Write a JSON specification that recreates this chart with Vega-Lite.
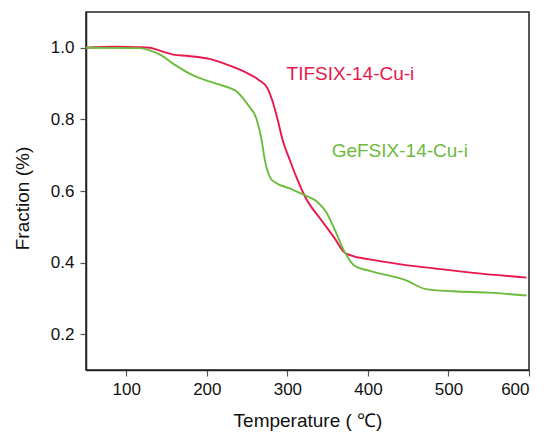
{
  "$schema": "https://vega.github.io/schema/vega-lite/v6.json",
  "width": 443,
  "height": 358,
  "autosize": {"type": "none"},
  "padding": {"left": 86, "top": 12, "right": 18, "bottom": 62},
  "background": "white",
  "config": {
    "font": "Liberation Sans",
    "view": {"stroke": "#222222", "strokeWidth": 1.5},
    "axis": {
      "grid": false,
      "domainColor": "#222222",
      "domainWidth": 1.5,
      "tickColor": "#555555",
      "tickSize": 6,
      "tickWidth": 1.2,
      "labelFont": "Liberation Sans",
      "labelFontSize": 17,
      "labelColor": "#111111",
      "titleFont": "Liberation Sans",
      "titleFontSize": 19,
      "titleFontWeight": "normal",
      "titleColor": "#111111"
    }
  },
  "datasets": {
    "curves": [
      {"t": 50, "f": 1.0, "s": "TIFSIX-14-Cu-i"},
      {"t": 86, "f": 1.003, "s": "TIFSIX-14-Cu-i"},
      {"t": 116, "f": 1.002, "s": "TIFSIX-14-Cu-i"},
      {"t": 129, "f": 1.0, "s": "TIFSIX-14-Cu-i"},
      {"t": 147, "f": 0.988, "s": "TIFSIX-14-Cu-i"},
      {"t": 158, "f": 0.981, "s": "TIFSIX-14-Cu-i"},
      {"t": 177, "f": 0.977, "s": "TIFSIX-14-Cu-i"},
      {"t": 203, "f": 0.969, "s": "TIFSIX-14-Cu-i"},
      {"t": 225, "f": 0.953, "s": "TIFSIX-14-Cu-i"},
      {"t": 246, "f": 0.934, "s": "TIFSIX-14-Cu-i"},
      {"t": 264, "f": 0.911, "s": "TIFSIX-14-Cu-i"},
      {"t": 275, "f": 0.888, "s": "TIFSIX-14-Cu-i"},
      {"t": 281, "f": 0.855, "s": "TIFSIX-14-Cu-i"},
      {"t": 288, "f": 0.799, "s": "TIFSIX-14-Cu-i"},
      {"t": 294, "f": 0.743, "s": "TIFSIX-14-Cu-i"},
      {"t": 303, "f": 0.687, "s": "TIFSIX-14-Cu-i"},
      {"t": 311, "f": 0.64, "s": "TIFSIX-14-Cu-i"},
      {"t": 322, "f": 0.584, "s": "TIFSIX-14-Cu-i"},
      {"t": 342, "f": 0.519, "s": "TIFSIX-14-Cu-i"},
      {"t": 359, "f": 0.467, "s": "TIFSIX-14-Cu-i"},
      {"t": 370, "f": 0.43, "s": "TIFSIX-14-Cu-i"},
      {"t": 379, "f": 0.42, "s": "TIFSIX-14-Cu-i"},
      {"t": 402, "f": 0.409, "s": "TIFSIX-14-Cu-i"},
      {"t": 441, "f": 0.395, "s": "TIFSIX-14-Cu-i"},
      {"t": 485, "f": 0.383, "s": "TIFSIX-14-Cu-i"},
      {"t": 528, "f": 0.372, "s": "TIFSIX-14-Cu-i"},
      {"t": 597, "f": 0.358, "s": "TIFSIX-14-Cu-i"},
      {"t": 50, "f": 1.0, "s": "GeFSIX-14-Cu-i"},
      {"t": 116, "f": 0.999, "s": "GeFSIX-14-Cu-i"},
      {"t": 129, "f": 0.993, "s": "GeFSIX-14-Cu-i"},
      {"t": 142, "f": 0.981, "s": "GeFSIX-14-Cu-i"},
      {"t": 160, "f": 0.953, "s": "GeFSIX-14-Cu-i"},
      {"t": 181, "f": 0.925, "s": "GeFSIX-14-Cu-i"},
      {"t": 203, "f": 0.906, "s": "GeFSIX-14-Cu-i"},
      {"t": 220, "f": 0.894, "s": "GeFSIX-14-Cu-i"},
      {"t": 238, "f": 0.876, "s": "GeFSIX-14-Cu-i"},
      {"t": 251, "f": 0.841, "s": "GeFSIX-14-Cu-i"},
      {"t": 262, "f": 0.799, "s": "GeFSIX-14-Cu-i"},
      {"t": 268, "f": 0.743, "s": "GeFSIX-14-Cu-i"},
      {"t": 272, "f": 0.687, "s": "GeFSIX-14-Cu-i"},
      {"t": 279, "f": 0.636, "s": "GeFSIX-14-Cu-i"},
      {"t": 285, "f": 0.624, "s": "GeFSIX-14-Cu-i"},
      {"t": 303, "f": 0.607, "s": "GeFSIX-14-Cu-i"},
      {"t": 324, "f": 0.586, "s": "GeFSIX-14-Cu-i"},
      {"t": 337, "f": 0.57, "s": "GeFSIX-14-Cu-i"},
      {"t": 348, "f": 0.542, "s": "GeFSIX-14-Cu-i"},
      {"t": 359, "f": 0.491, "s": "GeFSIX-14-Cu-i"},
      {"t": 370, "f": 0.435, "s": "GeFSIX-14-Cu-i"},
      {"t": 383, "f": 0.392, "s": "GeFSIX-14-Cu-i"},
      {"t": 402, "f": 0.377, "s": "GeFSIX-14-Cu-i"},
      {"t": 424, "f": 0.365, "s": "GeFSIX-14-Cu-i"},
      {"t": 446, "f": 0.352, "s": "GeFSIX-14-Cu-i"},
      {"t": 472, "f": 0.326, "s": "GeFSIX-14-Cu-i"},
      {"t": 506, "f": 0.32, "s": "GeFSIX-14-Cu-i"},
      {"t": 550, "f": 0.316, "s": "GeFSIX-14-Cu-i"},
      {"t": 597, "f": 0.308, "s": "GeFSIX-14-Cu-i"}
    ],
    "labels": [
      {"t": 299, "f": 0.928, "s": "TIFSIX-14-Cu-i"},
      {"t": 355, "f": 0.713, "s": "GeFSIX-14-Cu-i"}
    ]
  },
  "layer": [
    {
      "data": {"name": "curves"},
      "mark": {"type": "line", "interpolate": "monotone", "strokeWidth": 1.9, "clip": true},
      "encoding": {
        "x": {
          "field": "t", "type": "quantitative",
          "scale": {"domain": [50, 600], "nice": false, "zero": false},
          "axis": {"values": [100, 200, 300, 400, 500, 600], "title": "Temperature ( ℃)", "labelPadding": 5, "titlePadding": 14}
        },
        "y": {
          "field": "f", "type": "quantitative",
          "scale": {"domain": [0.1, 1.1], "nice": false, "zero": false},
          "axis": {"values": [0.2, 0.4, 0.6, 0.8, 1.0], "format": ".1f", "title": "Fraction (%)", "labelPadding": 6, "titleX": -64, "titleY": 186, "titleBaseline": "middle", "titleAnchor": "middle"}
        },
        "color": {
          "field": "s", "type": "nominal",
          "scale": {"domain": ["TIFSIX-14-Cu-i", "GeFSIX-14-Cu-i"], "range": ["#e8174c", "#6cbb3c"]},
          "legend": null
        },
        "detail": {"field": "s"}
      }
    },
    {
      "data": {"name": "labels"},
      "mark": {"type": "text", "align": "left", "baseline": "middle", "fontSize": 19, "font": "Liberation Sans"},
      "encoding": {
        "x": {"field": "t", "type": "quantitative"},
        "y": {"field": "f", "type": "quantitative"},
        "text": {"field": "s"},
        "color": {"field": "s", "type": "nominal", "legend": null}
      }
    }
  ]
}
